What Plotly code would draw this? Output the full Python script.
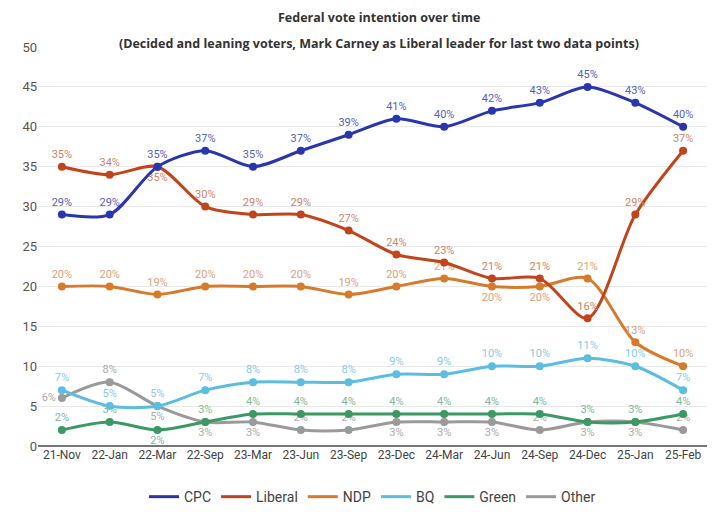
import plotly.graph_objects as go

# data
periods = ['21-Nov', '22-Jan', '22-Mar', '22-Sep', '23-Mar', '23-Jun', '23-Sep',
           '23-Dec', '24-Mar', '24-Jun', '24-Sep', '24-Dec', '25-Jan', '25-Feb']

cpc = [29, 29, 35, 37, 35, 37, 39, 41, 40, 42, 43, 45, 43, 40]
liberal = [35, 34, 35, 30, 29, 29, 27, 24, 23, 21, 21, 16, 29, 37]
ndp = [20, 20, 19, 20, 20, 20, 19, 20, 21, 20, 20, 21, 13, 10]
bq = [7, 5, 5, 7, 8, 8, 8, 9, 9, 10, 10, 11, 10, 7]
green = [2, 3, 2, 3, 4, 4, 4, 4, 4, 4, 4, 3, 3, 4]
other = [6, 8, 5, 3, 3, 2, 2, 3, 3, 3, 2, 3, 3, 2]

y_ticks = [0, 5, 10, 15, 20, 25, 30, 35, 40, 45, 50]

# label placement per series
T, B = 'top center', 'bottom center'
pos_cpc = [T] * 14
pos_lib = [T, T, B] + [T] * 11
pos_ndp = [T] * 9 + [B, B] + [T] * 3
pos_bq = [T] * 14
pos_green = [T, T, B] + [T] * 11
pos_other = ['middle left', T, B, B, B, T, T, B, B, B, T, B, B, T]

series = [
    ('CPC', cpc, '#2936ad', '#5661bd', pos_cpc),
    ('Liberal', liberal, '#c2441c', '#cc8466', pos_lib),
    ('NDP', ndp, '#d67a2c', '#d9a27a', pos_ndp),
    ('BQ', bq, '#5bbde0', '#85cbe6', pos_bq),
    ('Green', green, '#3b9963', '#7db895', pos_green),
    ('Other', other, '#9a9a9a', '#ababab', pos_other),
]

fig = go.Figure()

# draw back to front so CPC ends up on top
for name, vals, col, lab_col, pos in reversed(series):
    fig.add_trace(go.Scatter(
        x=periods, y=vals, name=name, showlegend=False,
        mode='lines+markers+text',
        line=dict(color=col, width=3, shape='spline', smoothing=0.8),
        marker=dict(color=col, size=8),
        text=[f'{v}%' for v in vals],
        textposition=pos,
        textfont=dict(family='Roboto', size=11, color=lab_col),
        cliponaxis=False,
    ))

# legend entries: plain line swatches like the original
for name, vals, col, lab_col, pos in series:
    fig.add_trace(go.Scatter(x=[None], y=[None], name=name, mode='lines',
                             line=dict(color=col, width=3)))

fig.add_annotation(text='<b>Federal vote intention over time</b>',
                   xref='paper', yref='paper', x=0.51, y=1.075, yanchor='middle',
                   showarrow=False, font=dict(family='Open Sans', size=12.5, color='#333'))
fig.add_annotation(text='<b>(Decided and leaning voters, Mark Carney as Liberal leader for last two data points)</b>',
                   xref='paper', yref='paper', x=0.51, y=1.01, yanchor='middle',
                   showarrow=False, font=dict(family='Open Sans', size=12.5, color='#333'))

# page body adds an 8px offset, so the figure is a bit smaller than the window
fig.update_layout(
    width=712, height=510,
    margin=dict(l=30, r=13, t=39, b=72, autoexpand=False),
    plot_bgcolor='white', paper_bgcolor='white',
    font=dict(family='Roboto', color='#444'),
    showlegend=True,
    legend=dict(orientation='h', x=0.5, xanchor='center', y=-0.128, yanchor='middle',
                font=dict(size=14, color='#444'), itemwidth=30),
    xaxis=dict(type='category', range=[-0.5, 13.5], showgrid=False,
               tickfont=dict(size=12, color='#444'), ticks='', automargin=False),
    yaxis=dict(range=[0, 50], tickvals=y_ticks, gridcolor='#e9e9e9',
               tickfont=dict(size=13, color='#555'), automargin=False,
               zeroline=True, zerolinecolor='#777', zerolinewidth=1.5),
)

fig.write_html('out.html')
